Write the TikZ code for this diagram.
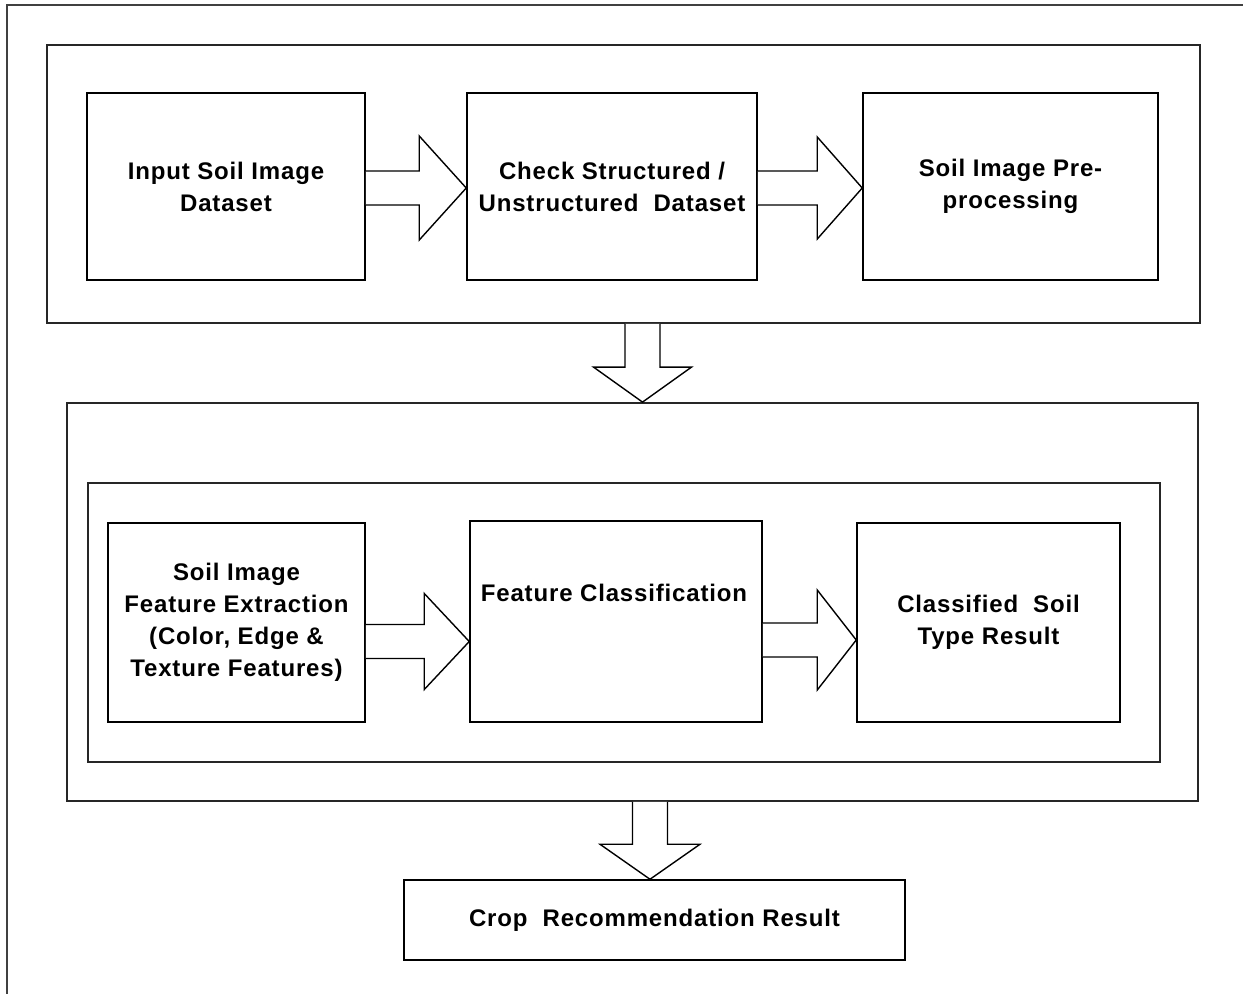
\documentclass[tikz,border=0pt]{standalone}
\usepackage{fontspec}
\setmainfont{Liberation Sans}[LetterSpace=3.5]
\usetikzlibrary{calc}
\tikzset{
  box/.style={draw=black, line width=1.5pt, fill=white, inner sep=0pt, align=center,
    font=\fontsize{24}{32}\selectfont\bfseries},
  group/.style={draw=black!85, line width=1.8pt, inner sep=0pt},
  frame/.style={draw=black!75, line width=2.6pt},
  blockarrow/.style={draw=black, line width=1.4pt, fill=white, line join=miter},
  lbl/.style={inner sep=0pt, align=center, font=\fontsize{24}{32}\selectfont\bfseries}
}
\newcommand\harr[5]{% from node, to node, center y, head length, head half height
  \draw[blockarrow] let \p1=(#1.east), \p2=(#2.west) in
    (\x1,{#3+17pt}) -- (\x2-#4,{#3+17pt}) -- (\x2-#4,{#3+#5}) -- (\x2,#3)
    -- (\x2-#4,{#3-#5}) -- (\x2-#4,{#3-17pt}) -- (\x1,{#3-17pt});}
\newcommand\varr[5]{% from node, to node, center x, head length, head half width
  \draw[blockarrow] let \p1=(#1.south), \p2=(#2.north) in
    ({#3-17.5pt},\y1) -- ({#3-17.5pt},\y2+#4) -- ({#3-#5},\y2+#4) -- (#3,\y2)
    -- ({#3+#5},\y2+#4) -- ({#3+17.5pt},\y2+#4) -- ({#3+17.5pt},\y1);}
\begin{document}
\begin{tikzpicture}[x=1pt,y=1pt]
\useasboundingbox (0,0) rectangle (1243,-994);
\coordinate (ftr) at (1243,-5);
\coordinate (fbl) at (7,-994);
\draw[frame] (ftr) -- (7,-5) -- (fbl);

% top group
\node[group, minimum width=1153pt, minimum height=278pt] (A) at (623.5,-184) {};
\node[box, minimum width=278pt, minimum height=187pt] (b1) at (226,-186.5) {Input Soil Image\\Dataset};
\node[box, minimum width=290pt, minimum height=187pt] (b2) at (612,-186.5) {Check Structured /\\Unstructured\ \ Dataset};
\node[box, minimum width=295pt, minimum height=187pt] (b3) at (1010.5,-186.5) {\raisebox{-3pt}{Soil Image Pre-}\\\raisebox{-3pt}{processing}};
\harr{b1}{b2}{-188pt}{47pt}{52pt}
\harr{b2}{b3}{-188pt}{45pt}{51pt}

% middle group
\node[group, minimum width=1131pt, minimum height=398pt] (B) at (632.5,-602) {};
\node[group, line width=1.5pt, minimum width=1072pt, minimum height=279pt] (C) at (624,-622.5) {};
\node[box, minimum width=257pt, minimum height=199pt] (b4) at (236.5,-622.5) {Soil Image\\Feature Extraction\\(Color, Edge \&\\Texture Features)};
\node[box, minimum width=292pt, minimum height=201pt] (b5) at (616,-621.5) {};
\node[lbl] (b5t) at (614,-593) {Feature Classification};
\node[box, minimum width=263pt, minimum height=199pt] (b6) at (988.5,-622.5) {Classified\ \ Soil\\Type Result};
\harr{b4}{b5}{-641.5pt}{45pt}{48pt}
\harr{b5}{b6}{-640pt}{39pt}{50pt}

\varr{A}{B}{642.5pt}{35pt}{49pt}

% result
\node[box, minimum width=501pt, minimum height=80pt] (b7) at (654.5,-920) {Crop\ \ Recommendation Result};
\varr{B}{b7}{650pt}{35pt}{50pt}
\end{tikzpicture}
\end{document}
